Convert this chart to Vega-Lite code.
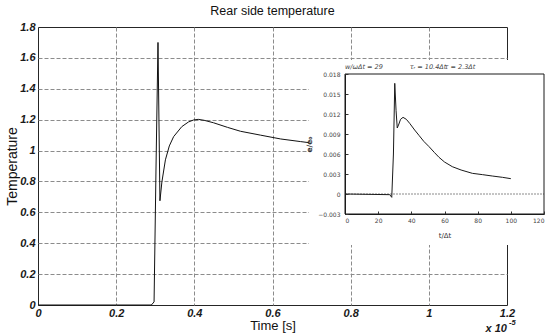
{
  "$schema": "https://vega.github.io/schema/vega-lite/v6.json",
  "width": 469,
  "height": 278,
  "autosize": "none",
  "padding": {"left": 38, "top": 27, "right": 41, "bottom": 29},
  "background": "white",
  "title": {"text": "Rear side temperature", "fontSize": 12.5, "fontWeight": "normal", "font": "Liberation Sans", "color": "#111", "offset": 4, "anchor": "middle"},
  "config": {
    "font": "Liberation Sans",
    "view": {"stroke": "#262626", "strokeWidth": 1},
    "axis": {"labelOverlap": false, "labelBound": false}
  },
  "datasets": {
    "main": [
      {"time": 0, "temp": 0}, {"time": 0.29, "temp": 0}, {"time": 0.297, "temp": 0.02},
      {"time": 0.302, "temp": 0.9}, {"time": 0.307, "temp": 1.70}, {"time": 0.312, "temp": 0.675},
      {"time": 0.317, "temp": 0.797}, {"time": 0.326, "temp": 0.94}, {"time": 0.336, "temp": 1.03},
      {"time": 0.347, "temp": 1.09}, {"time": 0.368, "temp": 1.155}, {"time": 0.385, "temp": 1.185},
      {"time": 0.398, "temp": 1.198}, {"time": 0.41, "temp": 1.202}, {"time": 0.425, "temp": 1.196},
      {"time": 0.449, "temp": 1.18}, {"time": 0.485, "temp": 1.15}, {"time": 0.518, "temp": 1.125},
      {"time": 0.569, "temp": 1.1}, {"time": 0.621, "temp": 1.075}, {"time": 0.672, "temp": 1.058},
      {"time": 0.697, "temp": 1.05}
    ],
    "mainNotes": [
      {"time": 1.2, "temp": -0.172, "label": "x 10", "kind": "base"},
      {"time": 1.205, "temp": -0.13, "label": "-5", "kind": "exp"}
    ],
    "inset": [
      {"t": 0, "e": 0}, {"t": 27, "e": -0.0001}, {"t": 28.2, "e": -0.0005}, {"t": 29.2, "e": 0.006},
      {"t": 30.0, "e": 0.0166}, {"t": 30.8, "e": 0.0125}, {"t": 31.5, "e": 0.0099}, {"t": 32.5, "e": 0.0105},
      {"t": 33.5, "e": 0.0112}, {"t": 35, "e": 0.0115}, {"t": 37, "e": 0.0112}, {"t": 39, "e": 0.0106},
      {"t": 42, "e": 0.0096}, {"t": 44.6, "e": 0.0088}, {"t": 47.5, "e": 0.0079}, {"t": 50.7, "e": 0.0071},
      {"t": 54, "e": 0.0062}, {"t": 56.7, "e": 0.0055}, {"t": 60, "e": 0.0048}, {"t": 64.7, "e": 0.0041},
      {"t": 70, "e": 0.0036}, {"t": 76.8, "e": 0.0031}, {"t": 83, "e": 0.0029}, {"t": 88.8, "e": 0.0027},
      {"t": 95, "e": 0.0025}, {"t": 100, "e": 0.0023}
    ],
    "insetPanel": [{"t": -21.7, "t2": 122, "e": 0.0201, "e2": -0.00765}],
    "insetBox": [
      {"t": 0, "e": -0.003, "step": 1},
      {"t": 0, "e": 0.018, "step": 2},
      {"t": 120, "e": 0.018, "step": 3},
      {"t": 120, "e": -0.003, "step": 4},
      {"t": 0, "e": -0.003, "step": 5}
    ],
    "insetZero": [{"t": 0, "t2": 120, "e": 0}],
    "insetNotes": [
      {"t": 0, "e": 0.0188, "label": "w/ωΔt = 29"},
      {"t": 39, "e": 0.0188, "label": "τᵣ = 10.4Δt"},
      {"t": 60, "e": 0.0188, "label": "τ = 2.3Δt"}
    ]
  },
  "layer": [
    {
      "layer": [
        {
          "data": {"name": "main"},
          "mark": {"type": "line", "color": "#111", "strokeWidth": 1},
          "encoding": {
            "x": {"field": "time", "type": "quantitative",
              "scale": {"domain": [0, 1.2], "nice": false, "zero": false},
              "axis": {"values": [0, 0.2, 0.4, 0.6, 0.8, 1, 1.2], "tickCount": 30, "format": "~g", "grid": true, "gridDash": [4, 2],
                "gridColor": {"condition": {"test": "datum.value === 0 || datum.value === 1.2", "value": "transparent"}, "value": "#8c8c8c"},
                "gridWidth": 1, "ticks": false, "domain": false, "labelOverlap": false,
                "labelFont": "Liberation Sans", "labelFontStyle": "italic", "labelFontWeight": "bold", "labelFontSize": 11, "labelColor": "#1a1a1a", "labelPadding": 2, "labelFlush": false,
                "title": "Time [s]", "titleFont": "Liberation Sans", "titleFontSize": 13, "titleFontWeight": "normal", "titleColor": "#111", "titlePadding": 1}},
            "y": {"field": "temp", "type": "quantitative",
              "scale": {"domain": [0, 1.8], "nice": false},
              "axis": {"values": [0, 0.2, 0.4, 0.6, 0.8, 1, 1.2, 1.4, 1.6, 1.8], "tickCount": 30, "format": "~g", "grid": true, "gridDash": [4, 2],
                "gridColor": {"condition": {"test": "datum.value === 0 || datum.value === 1.8", "value": "transparent"}, "value": "#8c8c8c"},
                "gridWidth": 1, "ticks": false, "domain": false, "labelOverlap": false,
                "labelFont": "Liberation Sans", "labelFontStyle": "italic", "labelFontWeight": "bold", "labelFontSize": 11, "labelColor": "#1a1a1a", "labelPadding": 3, "labelFlush": false,
                "title": "Temperature", "titleFont": "Liberation Sans", "titleFontSize": 14, "titleFontWeight": "normal", "titleColor": "#111", "titlePadding": 0}}
          }
        },
        {
          "data": {"name": "mainNotes"},
          "transform": [{"filter": "datum.kind === 'base'"}],
          "mark": {"type": "text", "align": "right", "baseline": "alphabetic", "fontSize": 11, "fontStyle": "italic", "fontWeight": "bold", "color": "#1a1a1a"},
          "encoding": {"x": {"field": "time", "type": "quantitative"}, "y": {"field": "temp", "type": "quantitative"}, "text": {"field": "label"}}
        },
        {
          "data": {"name": "mainNotes"},
          "transform": [{"filter": "datum.kind === 'exp'"}],
          "mark": {"type": "text", "align": "left", "baseline": "alphabetic", "fontSize": 7.5, "fontStyle": "italic", "fontWeight": "bold", "color": "#1a1a1a"},
          "encoding": {"x": {"field": "time", "type": "quantitative"}, "y": {"field": "temp", "type": "quantitative"}, "text": {"field": "label"}}
        }
      ]
    },
    {
      "layer": [
        {
          "data": {"name": "insetPanel"},
          "mark": {"type": "rect", "fill": "white", "stroke": null},
          "encoding": {
            "x": {"field": "t", "type": "quantitative", "scale": {"domain": [0, 120], "range": [307, 506], "nice": false, "zero": false}},
            "x2": {"field": "t2"},
            "y": {"field": "e", "type": "quantitative", "scale": {"domain": [-0.003, 0.018], "range": [187, 47], "nice": false, "zero": false}},
            "y2": {"field": "e2"}
          }
        },
        {
          "data": {"name": "insetZero"},
          "mark": {"type": "rule", "color": "#8a8a8a", "strokeWidth": 1, "strokeDash": [2, 1]},
          "encoding": {
            "x": {"field": "t", "type": "quantitative"},
            "x2": {"field": "t2"},
            "y": {"field": "e", "type": "quantitative"}
          }
        },
        {
          "data": {"name": "inset"},
          "mark": {"type": "line", "color": "#1a1a1a", "strokeWidth": 1},
          "encoding": {
            "x": {"field": "t", "type": "quantitative",
              "axis": {"orient": "bottom", "offset": -91, "zindex": 3, "values": [0, 20, 40, 60, 80, 100, 120], "tickCount": 30, "format": "d", "tickSize": -3, "tickColor": "#333", "domain": true, "domainColor": "#1a1a1a", "domainWidth": 1, "grid": false, "labelOverlap": false,
                "labelFont": "DejaVu Sans", "labelFontSize": 6, "labelColor": "#444", "labelPadding": 6,
                "title": "t/Δt", "titleFont": "DejaVu Sans", "titleFontSize": 7, "titleFontWeight": "normal", "titleColor": "#333", "titlePadding": 8}},
            "y": {"field": "e", "type": "quantitative",
              "axis": {"orient": "left", "offset": -307, "zindex": 3, "values": [-0.003, 0, 0.003, 0.006, 0.009, 0.012, 0.015, 0.018], "tickCount": 30, "format": ".3~f", "tickSize": -3, "tickColor": "#333", "domain": true, "domainColor": "#1a1a1a", "domainWidth": 1, "grid": false, "labelOverlap": false,
                "labelFont": "DejaVu Sans", "labelFontSize": 6, "labelColor": "#444", "labelPadding": 8,
                "title": "e/e₀", "titleFont": "DejaVu Sans", "titleFontSize": 7.5, "titleFontWeight": "bold", "titleColor": "#333", "titlePadding": 4}}
          }
        },
        {
          "data": {"name": "insetBox"},
          "mark": {"type": "line", "color": "#1a1a1a", "strokeWidth": 1},
          "encoding": {
            "x": {"field": "t", "type": "quantitative"},
            "y": {"field": "e", "type": "quantitative"},
            "order": {"field": "step", "type": "quantitative"}
          }
        },
        {
          "data": {"name": "insetNotes"},
          "mark": {"type": "text", "align": "left", "baseline": "alphabetic", "fontSize": 6.5, "fontStyle": "italic", "color": "#444", "font": "DejaVu Sans"},
          "encoding": {
            "x": {"field": "t", "type": "quantitative"},
            "y": {"field": "e", "type": "quantitative"},
            "text": {"field": "label"}
          }
        }
      ]
    }
  ],
  "resolve": {"scale": {"x": "independent", "y": "independent"}, "axis": {"x": "independent", "y": "independent"}}
}
